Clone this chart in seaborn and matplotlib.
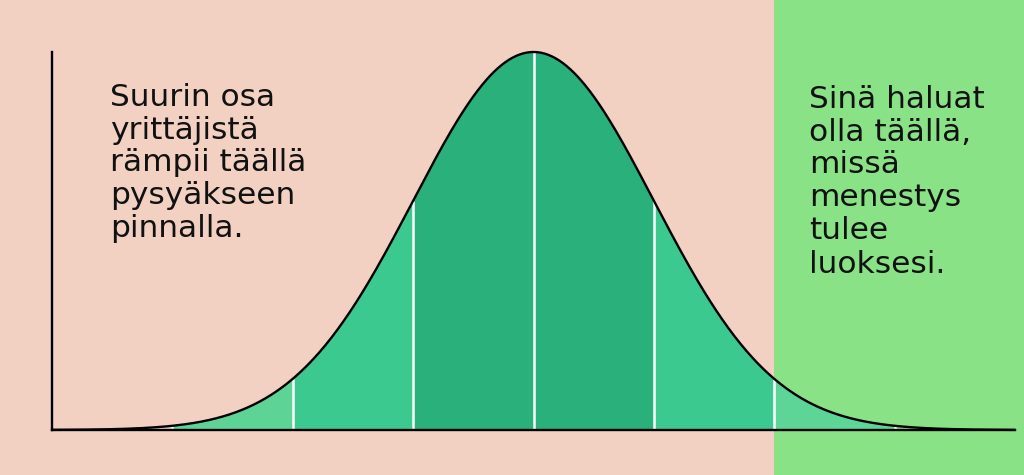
import numpy as np
import pandas as pd
import matplotlib
matplotlib.use("Agg")
import matplotlib.pyplot as plt
import seaborn as sns

# ---- data ----
mean = 0.0
sd = 1.0
x_range = [-4, 4]
band_edges = [-3, -2, -1, 0, 1, 2, 3]
band_colors = ["#5DD495", "#3CC98F", "#2AB07A", "#2AB07A", "#3CC98F", "#5DD597"]
highlight_from = 2
left_lines = ["Suurin osa", "yrittäjistä", "rämpii täällä", "pysyäkseen", "pinnalla."]
right_lines = ["Sinä haluat", "olla täällä,", "missä", "menestys", "tulee"]
right_last_line = "luoksesi."

PINK = "#F2D1C2"
GREEN = "#8AE286"

sns.set_theme(style="white")
plt.rcParams["font.family"] = ["DejaVu Sans"]


def pdf(x):
    x = np.asarray(x, dtype=float)
    return np.exp(-0.5 * ((x - mean) / sd) ** 2) / (sd * np.sqrt(2 * np.pi))


fig = plt.figure(figsize=(10.24, 4.75), dpi=100, facecolor=PINK)
ax = fig.add_axes([52 / 1024, 45 / 475, 963 / 1024, 378 / 475])
ax.set_facecolor("none")
ax.set_xlim(*x_range)
peak = float(pdf(mean))
ax.set_ylim(0, peak)

# highlighted background region
ax.axvspan(highlight_from, 5, ymin=-0.3, ymax=1.4, color=GREEN, lw=0,
           clip_on=False, zorder=0)

# bands
for a, b, c in zip(band_edges[:-1], band_edges[1:], band_colors):
    xs = np.linspace(a, b, 200)
    ax.fill_between(xs, 0, pdf(xs), color=c, lw=0, zorder=2)

# white separators
ax.vlines(band_edges, 0, pdf(band_edges), color="white", lw=1.8, zorder=3)

# curve
curve = pd.DataFrame({"x": np.linspace(x_range[0], x_range[1], 800)})
curve["y"] = pdf(curve["x"])
sns.lineplot(data=curve, x="x", y="y", color="black", lw=1.7, ax=ax,
             zorder=4, clip_on=False)

ax.set_xticks([])
ax.set_yticks([])
ax.set_xlabel("")
ax.set_ylabel("")
for s in ["top", "right"]:
    ax.spines[s].set_visible(False)
for s in ["left", "bottom"]:
    ax.spines[s].set_color("black")
    ax.spines[s].set_linewidth(1.7)
    ax.spines[s].set_zorder(5)

txt = dict(va="top", ha="left", fontsize=22.5, linespacing=1.16, color="#111111")
fig.text(110 / 1024, 1 - 83 / 475, "\n".join(left_lines), **txt)
fig.text(809 / 1024, 1 - 85 / 475, "\n".join(right_lines), **txt)
fig.text(809 / 1024, 1 - 250 / 475, right_last_line, **txt)

fig.savefig("out.png", dpi=100, facecolor=PINK)
